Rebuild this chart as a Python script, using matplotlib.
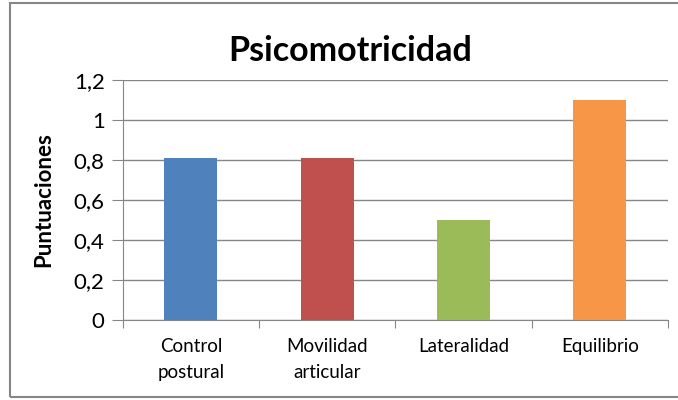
import matplotlib.pyplot as plt
from matplotlib.patches import Rectangle
from matplotlib.ticker import FuncFormatter

categorias = ["Control\npostural", "Movilidad\narticular", "Lateralidad", "Equilibrio"]
puntuaciones = [0.81, 0.81, 0.5, 1.1]
colores = ["#4F81BD", "#C0504D", "#9BBB59", "#F79646"]
yticks = [0, 0.2, 0.4, 0.6, 0.8, 1.0, 1.2]

plt.rcParams["font.family"] = ["Lato", "DejaVu Sans"]

fig = plt.figure(figsize=(6.78, 4.0), dpi=100)
ax = fig.add_axes([0.181, 0.2, 0.804, 0.6])

x = range(len(categorias))
ax.bar(x, puntuaciones, width=0.39, color=colores, zorder=3)

ax.set_xlim(-0.5, len(categorias) - 0.5)
ax.set_ylim(0, 1.2)
ax.set_yticks(yticks)
ax.yaxis.set_major_formatter(FuncFormatter(lambda v, p: ("%g" % round(v, 1)).replace(".", ",")))
ax.tick_params(axis="y", labelsize=16, length=8, color="#868686", pad=5)
ax.grid(axis="y", color="#868686", linewidth=1, zorder=0)

ax.set_xticks([i + 0.5 for i in range(-1, len(categorias))], minor=False)
ax.set_xticklabels([])
ax.set_xticks(list(x), minor=True)
ax.set_xticklabels(categorias, minor=True, fontsize=13.5, linespacing=1.65)
ax.tick_params(axis="x", which="major", length=6, color="#868686")
ax.tick_params(axis="x", which="minor", length=0, pad=13)

for s in ["top", "right"]:
    ax.spines[s].set_visible(False)
for s in ["left", "bottom"]:
    ax.spines[s].set_color("#868686")

ax.set_ylabel("Puntuaciones", fontsize=16, fontweight="bold", labelpad=14)
fig.text(0.516, 0.873, "Psicomotricidad", ha="center", va="center", fontsize=24.5, fontweight="bold")

fig.patches.append(Rectangle((10 / 678, 3 / 400), 670 / 678, 394 / 400, transform=fig.transFigure,
                             fill=False, edgecolor="#868686", linewidth=1.5))

fig.savefig("out.png", dpi=100)
